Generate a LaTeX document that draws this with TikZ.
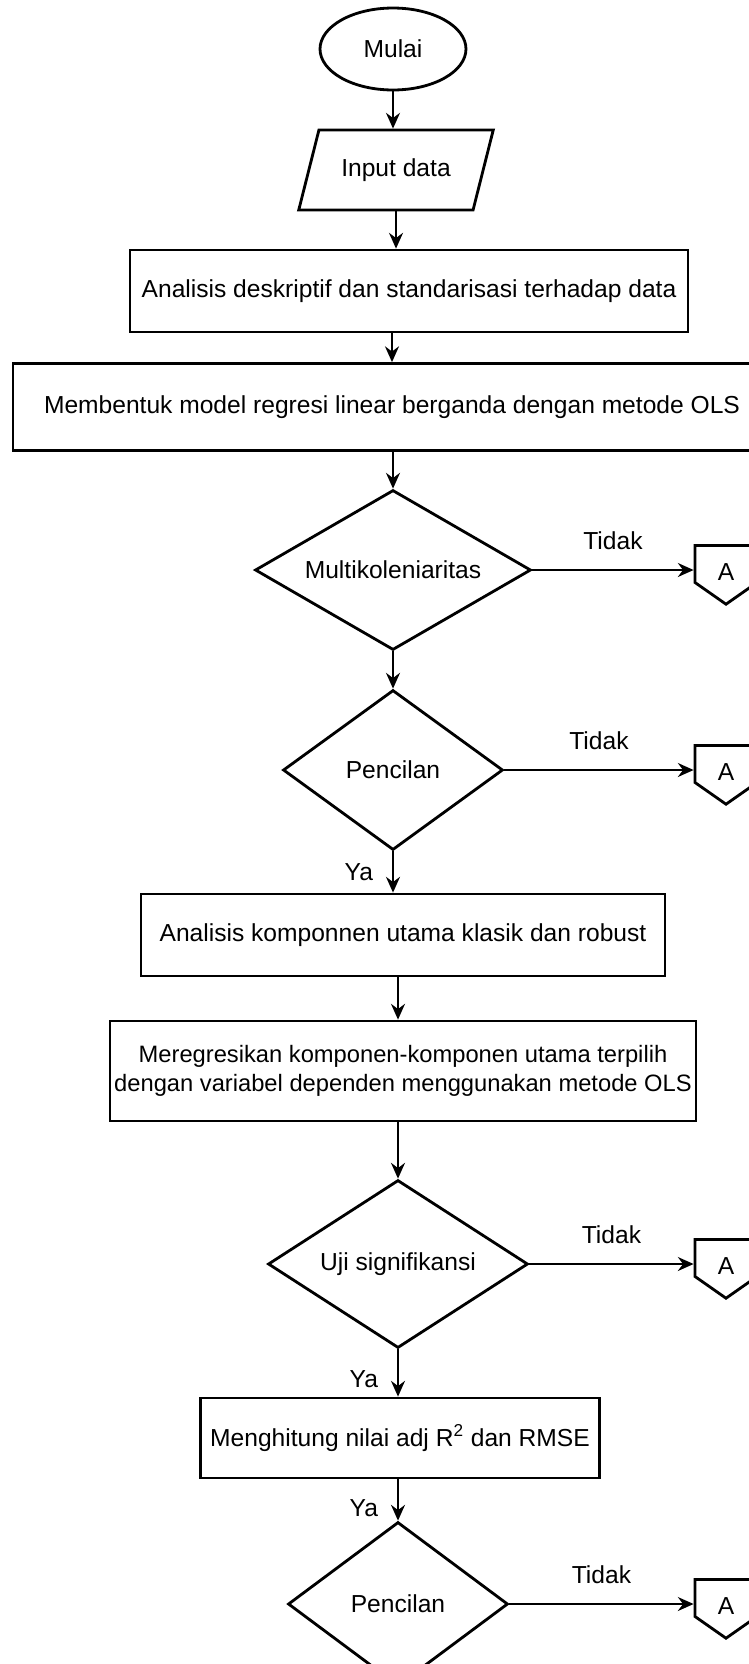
\documentclass[tikz,border=0pt]{standalone}
\usepackage{fontspec}
\setmainfont{Liberation Sans}
\usetikzlibrary{shapes.geometric, shapes.symbols, arrows.meta, positioning}

\begin{document}
\begin{tikzpicture}[x=0.02cm, y=-0.02cm,
  every node/.style={font=\fontsize{14}{17}\selectfont, inner sep=0pt},
  terminal/.style={draw, line width=1.6pt, ellipse, minimum width=2.92cm, minimum height=1.64cm},
  io/.style={draw, line width=1.6pt, trapezium, trapezium left angle=58, trapezium right angle=122,
    trapezium stretches=true, minimum width=3.9cm, minimum height=1.6cm},
  process/.style={draw, line width=1.6pt, rectangle, align=center},
  decision/.style={draw, line width=1.6pt, diamond},
  offpage/.style={draw, line width=1.6pt, signal, signal to=south, signal from=nowhere,
    signal pointer angle=110, minimum width=1.24cm, minimum height=0.74cm},
  arrow/.style={-{Stealth[length=9pt, width=8pt, inset=3pt]}, line width=0.85pt}
  ]
  \useasboundingbox (0,0) rectangle (749,1664);
  \clip (0,0) rectangle (749,1664);

  \node[terminal] (mulai) at (393,49) {Mulai};
  \node[io] (input) at (396,170) {Input data};
  \node[process, minimum width=11.16cm, minimum height=1.64cm] (deskriptif) at (409,291)
    {Analisis deskriptif dan standarisasi terhadap data};
  \node[process, minimum width=15.16cm, minimum height=1.74cm] (ols) at (392,407)
    {Membentuk model regresi linear berganda dengan metode OLS};
  \node[decision, aspect=1.72, minimum width=5.52cm, minimum height=3.2cm] (multi) at (393,570)
    {Multikoleniaritas};
  \node[decision, aspect=1.37, minimum width=4.4cm, minimum height=3.2cm] (pencilan1) at (393,770)
    {Pencilan};
  \node[process, minimum width=10.48cm, minimum height=1.64cm] (komponen) at (403,935)
    {Analisis komponnen utama klasik dan robust};
  \node[process, minimum width=11.72cm, minimum height=2cm, font=\fontsize{13.5}{16.5}\selectfont]
    (regresi) at (403,1071)
    {Meregresikan komponen-komponen utama terpilih\\dengan variabel dependen menggunakan metode OLS};
  \node[decision, aspect=1.55, minimum width=5.2cm, minimum height=3.36cm] (uji) at (398,1264)
    {Uji signifikansi};
  \node[process, minimum width=7.98cm, minimum height=1.6cm] (hitung) at (400,1438)
    {Menghitung nilai adj R\textsuperscript{2} dan RMSE};
  \node[decision, aspect=1.34, minimum width=4.4cm, minimum height=3.28cm] (pencilan2) at (398,1604)
    {Pencilan};

  \draw (mulai.south) edge[arrow] (mulai.south |- input.north);
  \draw (input.south) edge[arrow] (input.south |- deskriptif.north);
  \draw (ols.north |- deskriptif.south) edge[arrow] (ols.north);
  \draw (multi.north |- ols.south) edge[arrow] (multi.north);
  \draw (multi.south) edge[arrow] (pencilan1.north);
  \draw (pencilan1.south) edge[arrow] node[left=11pt] (ya1) {Ya} (pencilan1.south |- komponen.north);
  \draw (uji.north |- komponen.south) edge[arrow] (uji.north |- regresi.north);
  \draw (uji.north |- regresi.south) edge[arrow] (uji.north);
  \draw (uji.south) edge[arrow] node[left=11pt, pos=0.62] (ya2) {Ya} (uji.south |- hitung.north);
  \draw (pencilan2.north |- hitung.south) edge[arrow] node[left=11pt, pos=0.7] (ya3) {Ya} (pencilan2.north);

  % off-page connectors A, text set apart to sit on the arrow line
  \foreach \d/\y [count=\i] in {multi/570, pencilan1/770, uji/1264, pencilan2/1604} {
    \node[offpage] (a\i) at (726,\y-6) {};
    \node (huruf\i) at (726,\y+2) {A};
    \draw (\d.east) edge[arrow] node[above=11pt] (tidak\i) {Tidak} (\d.east -| a\i.west);
  }
\end{tikzpicture}
\end{document}
